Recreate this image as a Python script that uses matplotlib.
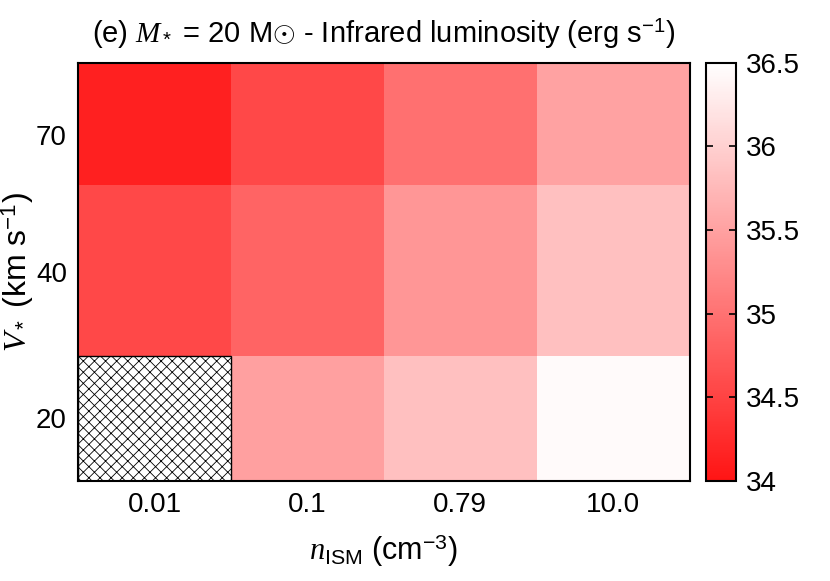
"""Infrared luminosity grid for the M* = 20 Msun runs."""
import matplotlib
matplotlib.use("Agg")
import matplotlib.pyplot as plt
import numpy as np
from matplotlib.colors import LinearSegmentedColormap
from matplotlib.patches import Rectangle

plt.rcParams["font.family"] = ["Liberation Sans", "DejaVu Sans"]
plt.rcParams["mathtext.fontset"] = "custom"
plt.rcParams["mathtext.rm"] = "Liberation Sans"
plt.rcParams["mathtext.it"] = "Liberation Serif:italic"
plt.rcParams["mathtext.bf"] = "Liberation Sans:bold"
plt.rcParams["hatch.linewidth"] = 0.6

n_ism_labels = ["0.01", "0.1", "0.79", "10.0"]
v_star_labels = ["20", "40", "70"]
# log10 L_IR, rows = V*, cols = n_ISM (nan = no model)
lum_v20 = [np.nan, 35.49, 35.83, 36.45]
lum_v40 = [34.55, 34.85, 35.38, 35.83]
lum_v70 = [34.13, 34.55, 34.98, 35.51]

# layout: row boundaries / label positions as drawn in the original (uneven rows)
row_edges = [0.0, 0.9, 2.12, 3.0]
row_ticks = [0.45, 1.5, 2.48]

grid = np.array([lum_v20, lum_v40, lum_v70])
cmap = LinearSegmentedColormap.from_list("redwhite", ["#ff1414", "#ffffff"])

fig = plt.figure(figsize=(8.3, 5.81), dpi=100)
ax = fig.add_axes([0.094, 0.172, 0.737, 0.720])
cax = fig.add_axes([0.851, 0.172, 0.036, 0.720])

col_edges = np.arange(len(n_ism_labels) + 1)
mesh = ax.pcolormesh(col_edges, row_edges, np.ma.masked_invalid(grid),
                     cmap=cmap, vmin=34, vmax=36.5)
for i, j in zip(*np.where(np.isnan(grid))):
    ax.add_patch(Rectangle((col_edges[j], row_edges[i]), 1, row_edges[i + 1] - row_edges[i],
                           facecolor="white", edgecolor="black", hatch="xxx", linewidth=1.0))
ax.set_xlim(col_edges[0], col_edges[-1])
ax.set_ylim(row_edges[0], row_edges[-1])

ax.set_xticks(col_edges[:-1] + 0.5, n_ism_labels)
ax.set_yticks(row_ticks, v_star_labels)
ax.tick_params(length=0, labelsize=20)
ax.tick_params(axis="x", pad=8)
ax.tick_params(axis="y", pad=8)
for s in ax.spines.values():
    s.set_linewidth(1.5)

ax.set_xlabel(r"$n_{\rm ISM}$ (cm$^{-3}$)", fontsize=22, labelpad=10)
ax.set_ylabel(r"$V_*$ (km s$^{-1}$)", fontsize=23)
ax.yaxis.set_label_coords(-0.068, 0.5)
ax.set_title(r"(e) $M_*$ = 20 M$\odot$ - Infrared luminosity (erg s$^{-1}$)",
             fontsize=21, pad=14)

cb = fig.colorbar(mesh, cax=cax, ticks=[34, 34.5, 35, 35.5, 36, 36.5])
cb.ax.set_yticklabels(["34", "34.5", "35", "35.5", "36", "36.5"])
cb.ax.tick_params(direction="in", length=5, width=1.2, labelsize=20, pad=7,
                  left=True, right=True)
cb.outline.set_linewidth(1.5)

fig.savefig("out.png", dpi=100)
